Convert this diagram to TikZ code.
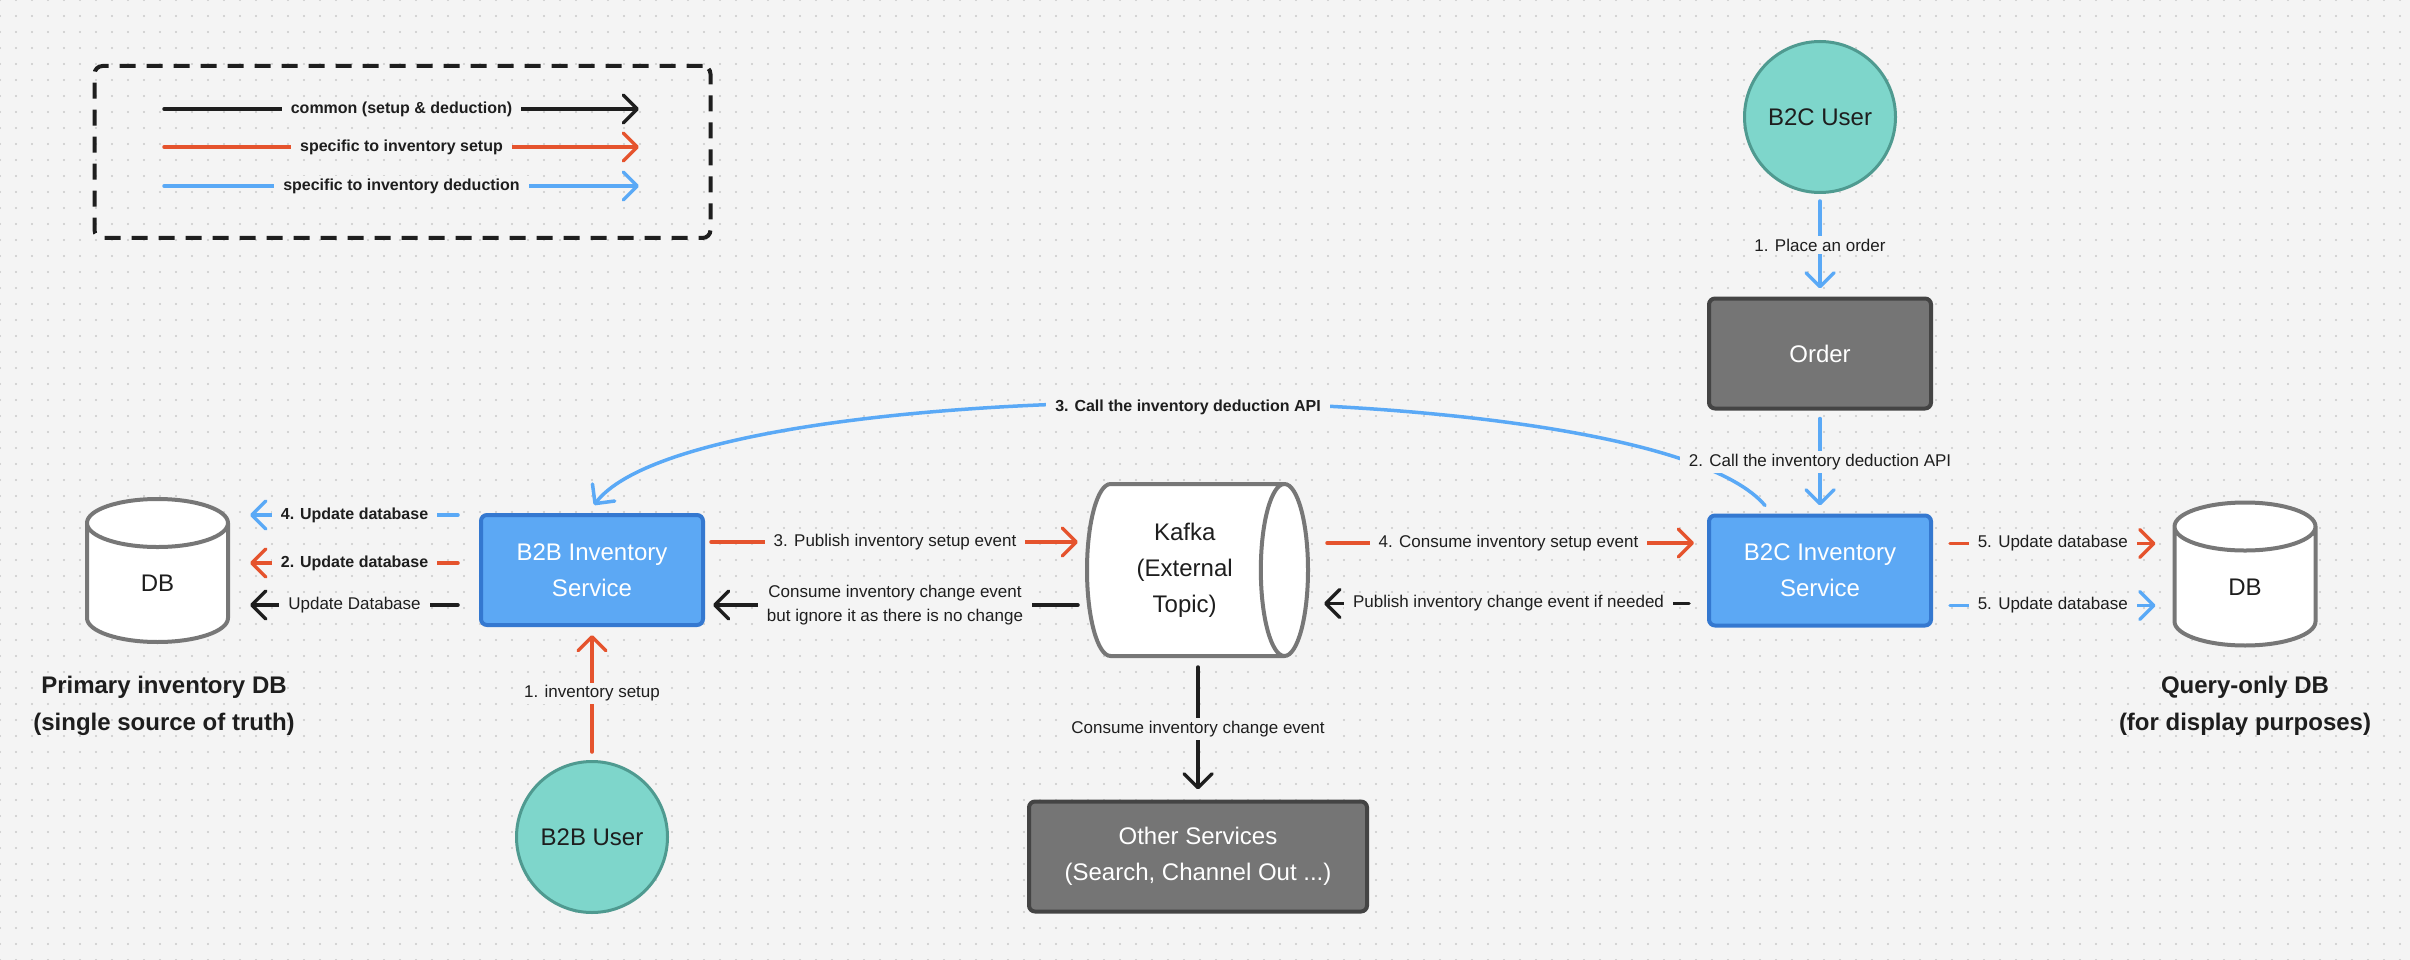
\documentclass[tikz,border=0pt]{standalone}
\usepackage{fontspec}
\setmainfont{Liberation Sans}
\usetikzlibrary{positioning, arrows.meta, shapes.geometric, patterns.meta}
\definecolor{bgFill}{HTML}{F4F4F4}
\definecolor{dotFill}{HTML}{C9C9C9}
\definecolor{inkText}{HTML}{1E1E1E}
\definecolor{comDraw}{HTML}{1E1E1E}
\definecolor{setDraw}{HTML}{E5532D}
\definecolor{dedDraw}{HTML}{5AA9F6}
\definecolor{svcFill}{HTML}{5CA8F4}
\definecolor{svcDraw}{HTML}{3478D0}
\definecolor{usrFill}{HTML}{7ED6CB}
\definecolor{usrDraw}{HTML}{4F9A90}
\definecolor{extFill}{HTML}{757575}
\definecolor{extDraw}{HTML}{444444}
\definecolor{dbDraw}{HTML}{777777}

\begin{document}
\begin{tikzpicture}[
  x=1pt, y=-1pt,
  font=\fontsize{24}{36}\selectfont,
  box/.style={rectangle, rounded corners=6pt, line width=4pt, align=center,
              inner sep=0pt, minimum width=222pt, minimum height=110pt},
  svc/.style={box, fill=svcFill, draw=svcDraw, text=white},
  ext/.style={box, fill=extFill, draw=extDraw, text=white},
  usr/.style={circle, fill=usrFill, draw=usrDraw, line width=3pt,
              inner sep=0pt, minimum size=151pt, text=inkText},
  store/.style={cylinder, fill=white, draw=dbDraw, line width=4pt,
                align=center, inner sep=0pt, text=inkText},
  db/.style={store, shape border rotate=90, aspect=1.44,
             minimum width=141pt, minimum height=143pt},
  topic/.style={store, shape border rotate=0, aspect=0.5,
                minimum width=172pt, minimum height=221pt},
  dbCap/.style={align=center, text=inkText, font=\fontsize{24}{37}\selectfont\bfseries},
  lbl/.style={fill=bgFill, text=inkText, align=center, inner xsep=9pt, inner ysep=3pt,
              font=\fontsize{17}{24}\selectfont},
  lblb/.style={lbl, font=\fontsize{16}{24}\selectfont\bfseries},
  arr/.style={-{Straight Barb[length=14pt, width=28pt, round]}, line width=3.5pt, line cap=round},
  comArr/.style={arr, draw=comDraw},
  setArr/.style={arr, draw=setDraw},
  dedArr/.style={arr, draw=dedDraw},
]

% ---- Canvas ----
\useasboundingbox (0,0) rectangle (2410,960);
\fill[bgFill] (0,0) rectangle (2410,960);
\fill[pattern={Dots[distance=16pt, radius=1.2pt]}, pattern color=dotFill] (0,0) rectangle (2410,960);

% ---- Legend ----
\node[draw=comDraw, line width=4pt, dash pattern=on 16pt off 11pt, rounded corners=8pt,
      minimum width=616pt, minimum height=172pt] (legend) at (402.5,152) {};
\coordinate (comA) at (164,109);  \coordinate (comB) at (639,109);
\coordinate (setA) at (164,147);  \coordinate (setB) at (639,147);
\coordinate (dedA) at (164,186);  \coordinate (dedB) at (639,186);
\draw[comArr] (comA) -- node[lblb] {common (setup \& deduction)} (comB);
\draw[setArr] (setA) -- node[lblb] {specific to inventory setup} (setB);
\draw[dedArr] (dedA) -- node[lblb] {specific to inventory deduction} (dedB);

% ---- Users ----
\node[usr] (b2cuser) at (1820,117) {B2C User};
\node[usr] (b2buser) at (592,837)  {B2B User};

% ---- Services ----
\node[ext] (order) at (1820,353.5) {Order};
\node[svc] (b2c)   at (1820,570.5) {B2C Inventory\\Service};
\node[svc] (b2b)   at (592,570)    {B2B Inventory\\Service};
\node[ext, minimum width=338pt] (other) at (1198,856.5) {Other Services\\(Search, Channel Out ...)};

% ---- Stores ----
\node[topic, anchor=shape center] (kafka) at (1197.5,570) {Kafka\\(External\\Topic)};
\node[db, anchor=shape center] (db1) at (157.5,570.5) {DB};
\node[db, anchor=shape center] (db2) at (2245,574)    {DB};
\node[dbCap] (db1cap) at (164,706)  {Primary inventory DB\\(single source of truth)};
\node[dbCap] (db2cap) at (2245,706) {Query-only DB\\(for display purposes)};

% ---- Deduction path ----
\draw[dedArr, shorten <=7pt, shorten >=8pt] (b2cuser) -- node[lbl] {1. Place an order} (order);
\draw[dedArr] ([shift={(-55,-8)}]b2c.north) .. controls +(-115,-137) and +(105,-137) .. ([shift={(2,-8)}]b2b.north);
\node[lblb] (calllbl) at (1188,407) {3. Call the inventory deduction API};
\draw[dedArr, shorten <=8pt, shorten >=8pt] (order) -- node[lbl] {2. Call the inventory deduction API} (b2c);

% ---- Setup path ----
\draw[setArr, shorten <=8pt, shorten >=8pt] (b2buser) -- node[lbl] {1. inventory setup} (b2b);

% ---- B2B service <-> primary DB ----
\draw[dedArr, shorten <=21pt, shorten >=20pt] ([yshift=55pt]b2b.west)
  -- node[lblb] {4. Update database} ([yshift=55pt]b2b.west -| db1.east);
\draw[setArr, shorten <=21pt, shorten >=20pt] ([yshift=7pt]b2b.west)
  -- node[lblb] {2. Update database} ([yshift=7pt]b2b.west -| db1.east);
\draw[comArr, shorten <=21pt, shorten >=20pt] ([yshift=-35pt]b2b.west)
  -- node[lbl] {Update Database} ([yshift=-35pt]b2b.west -| db1.east);

% ---- B2B service <-> Kafka ----
\draw[setArr, shorten <=6pt, shorten >=7pt] ([yshift=28pt]b2b.east)
  -- node[lbl] {3. Publish inventory setup event} ([yshift=28pt]b2b.east -| kafka.west);
\draw[comArr, shorten <=7pt, shorten >=8pt] ([yshift=-35pt]kafka.west)
  -- node[lbl] {Consume inventory change event\\but ignore it as there is no change} ([yshift=-35pt]kafka.west -| b2b.east);

% ---- Kafka <-> B2C service ----
\draw[setArr, shorten <=17pt, shorten >=13pt] ([yshift=27pt]kafka.east)
  -- node[lbl] {4. Consume inventory setup event} ([yshift=27pt]kafka.east -| b2c.west);
\draw[comArr, shorten <=18pt, shorten >=14pt] ([yshift=-33pt]b2c.west)
  -- node[lbl] {Publish inventory change event if needed} ([yshift=-33pt]b2c.west -| kafka.east);

% ---- B2C service -> query DB ----
\draw[setArr, shorten <=17pt, shorten >=17pt] ([yshift=27pt]b2c.east)
  -- node[lbl] {5. Update database} ([yshift=27pt]b2c.east -| db2.west);
\draw[dedArr, shorten <=17pt, shorten >=17pt] ([yshift=-35pt]b2c.east)
  -- node[lbl] {5. Update database} ([yshift=-35pt]b2c.east -| db2.west);

% ---- Kafka -> other consumers ----
\draw[comArr, shorten <=9pt, shorten >=10pt] (kafka.south -| other.north)
  -- node[lbl] {Consume inventory change event} (other.north);

\end{tikzpicture}
\end{document}
